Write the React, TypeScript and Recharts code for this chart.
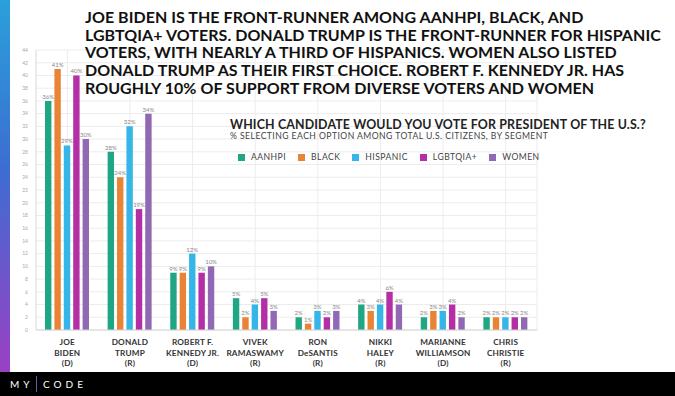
import React from "react";
import { Bar, BarChart, CartesianGrid, LabelList, XAxis, YAxis } from "recharts";

const candidates = [
  "JOE|BIDEN",
  "DONALD|TRUMP",
  "ROBERT F.|KENNEDY JR.",
  "VIVEK|RAMASWAMY",
  "RON|DeSANTIS",
  "NIKKI|HALEY",
  "MARIANNE|WILLIAMSON",
  "CHRIS|CHRISTIE",
];
const parties = ["D", "R", "D", "R", "R", "R", "D", "R"];

const aanhpi = [36, 28, 9, 5, 2, 4, 2, 2];
const black = [41, 24, 9, 2, 1, 3, 3, 2];
const hispanic = [29, 32, 12, 4, 3, 4, 3, 2];
const lgbtqia = [40, 19, 9, 5, 2, 6, 4, 2];
const women = [30, 34, 10, 3, 3, 4, 2, 2];

const yTicks = [0, 2, 4, 6, 8, 10, 12, 14, 16, 18, 20, 22, 24, 26, 28, 30, 32, 34, 36, 38, 40, 42, 44];

const segments = [
  { key: "aanhpi", name: "AANHPI", color: "#1FA683" },
  { key: "black", name: "BLACK", color: "#E98436" },
  { key: "hispanic", name: "HISPANIC", color: "#36B5E8" },
  { key: "lgbtqia", name: "LGBTQIA+", color: "#B42FA6" },
  { key: "women", name: "WOMEN", color: "#9068B4" },
];

const data = candidates.map((c, i) => ({
  name: c,
  party: parties[i],
  aanhpi: aanhpi[i],
  black: black[i],
  hispanic: hispanic[i],
  lgbtqia: lgbtqia[i],
  women: women[i],
}));

const font = "'Lato', 'Open Sans', sans-serif";

function CandidateTick({ x, y, payload, index }: any) {
  const lines = String(payload.value).split("|");
  lines.push(`(${parties[index]})`);
  return (
    <text x={x} y={y + 7} textAnchor="middle" fontFamily={font} fontWeight={700} fontSize={8.2} fill="#333" letterSpacing={0.2}>
      {lines.map((l, i) => (
        <tspan key={i} x={x} dy={i === 0 ? 0 : 10.6}>
          {l}
        </tspan>
      ))}
    </text>
  );
}

export default function App() {
  return (
    <div style={{ position: "fixed", left: 0, top: 0, width: 675, height: 396, background: "#fff", overflow: "hidden", fontFamily: font }}>
      <div style={{ position: "absolute", left: 0, top: 0, width: 10, height: 372, background: "linear-gradient(#2AA0DA, #3C6ED2 45%, #9B40C4)" }} />

      <BarChart
        width={675}
        height={396}
        data={data}
        margin={{ top: 50, right: 138, bottom: 0, left: 0 }}
        barSize={6.4}
        barGap={3}
      >
        <CartesianGrid stroke="#ececec" vertical={true} />
        <XAxis
          dataKey="name"
          interval={0}
          tickLine={false}
          axisLine={{ stroke: "#d5d5d5" }}
          tick={<CandidateTick />}
          height={66}
        />
        <YAxis
          domain={[0, 44]}
          ticks={yTicks}
          interval={0}
          width={36}
          tickLine={false}
          axisLine={{ stroke: "#e0e0e0" }}
          tick={{ fontSize: 5, fill: "#aaa", fontFamily: font }}
        />
        {segments.map(s => (
          <Bar key={s.key} dataKey={s.key} name={s.name} fill={s.color} isAnimationActive={false}>
            <LabelList
              dataKey={s.key}
              position="top"
              offset={2}
              formatter={(v: any) => `${v}%`}
              style={{ fontSize: 6, fill: "#888", fontFamily: font }}
            />
          </Bar>
        ))}
      </BarChart>

      <div
        style={{
          position: "absolute",
          left: 85,
          top: 8,
          width: 590,
          fontSize: 16,
          lineHeight: "17.7px",
          fontWeight: 700,
          color: "#111",
          letterSpacing: 0.05,
          whiteSpace: "nowrap",
        }}
      >
        JOE BIDEN IS THE FRONT-RUNNER AMONG AANHPI, BLACK, AND
        <br />
        LGBTQIA+ VOTERS. DONALD TRUMP IS THE FRONT-RUNNER FOR HISPANIC
        <br />
        VOTERS, WITH NEARLY A THIRD OF HISPANICS. WOMEN ALSO LISTED
        <br />
        DONALD TRUMP AS THEIR FIRST CHOICE. ROBERT F. KENNEDY JR. HAS
        <br />
        ROUGHLY 10% OF SUPPORT FROM DIVERSE VOTERS AND WOMEN
      </div>

      <div style={{ position: "absolute", left: 230, top: 117, fontSize: 12.4, fontWeight: 700, color: "#222", whiteSpace: "nowrap", letterSpacing: 0.15 }}>
        WHICH CANDIDATE WOULD YOU VOTE FOR PRESIDENT OF THE U.S.?
      </div>
      <div style={{ position: "absolute", left: 230, top: 131, fontSize: 8.6, color: "#444", whiteSpace: "nowrap", letterSpacing: 0.45 }}>
        % SELECTING EACH OPTION AMONG TOTAL U.S. CITIZENS, BY SEGMENT
      </div>

      <div style={{ position: "absolute", left: 238, top: 152, display: "flex", gap: 12, fontSize: 8.6, color: "#444", whiteSpace: "nowrap", letterSpacing: 0.45 }}>
        {segments.map(s => (
          <div key={s.key} style={{ display: "flex", alignItems: "center", gap: 6 }}>
            <span style={{ width: 7, height: 7, background: s.color, display: "inline-block" }} />
            {s.name}
          </div>
        ))}
      </div>

      <div style={{ position: "absolute", left: 0, top: 372, width: 675, height: 24, background: "#000" }}>
        <span style={{ position: "absolute", left: 10, top: 6, color: "#fff", fontSize: 10, letterSpacing: 4 }}>MY</span>
        <span style={{ position: "absolute", left: 36, top: 4, width: 1, height: 16, background: "#7E4FB0" }} />
        <span style={{ position: "absolute", left: 43, top: 6, color: "#fff", fontSize: 10, letterSpacing: 4 }}>CODE</span>
      </div>
    </div>
  );
}
